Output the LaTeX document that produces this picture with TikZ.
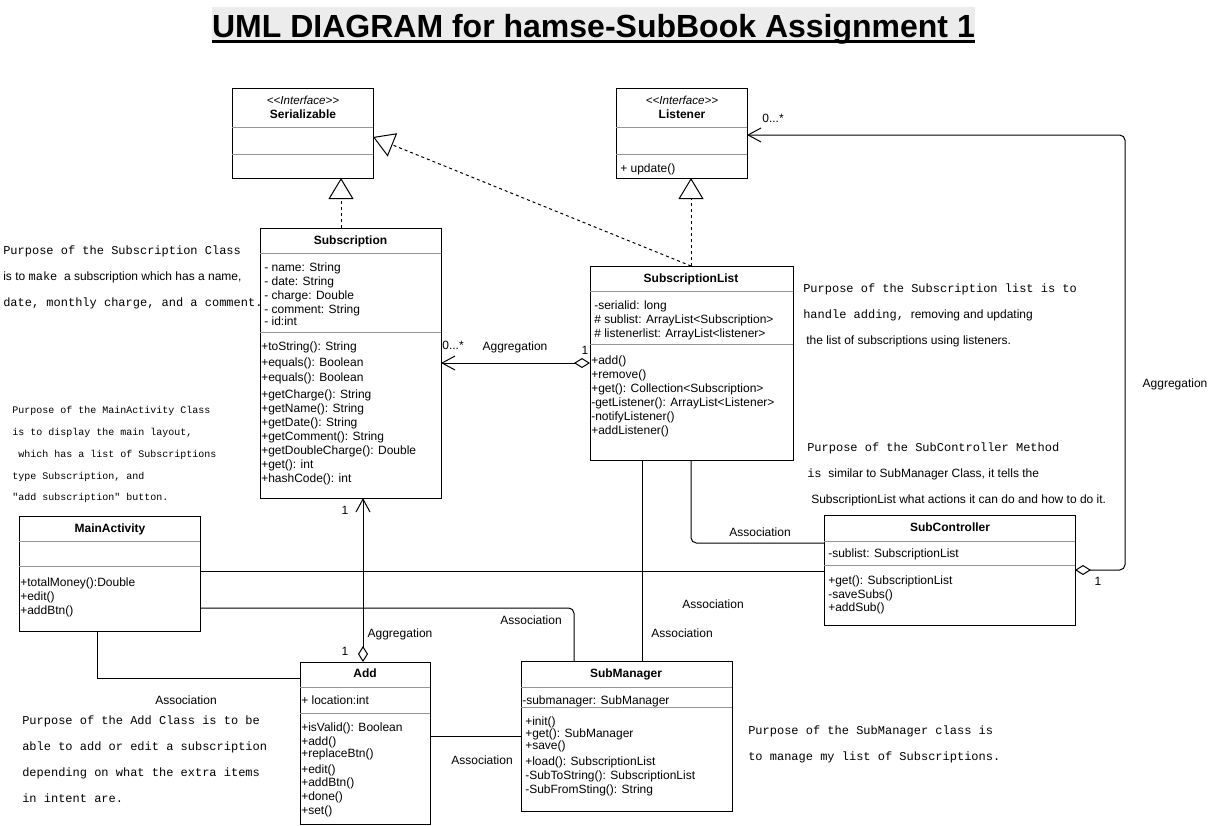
\documentclass[tikz,border=0pt]{standalone}
\usepackage{fontspec}
\setmainfont{Liberation Sans}
\newfontfamily\cour{Liberation Mono}
\usetikzlibrary{arrows.meta,calc}
\definecolor{divgray}{RGB}{150,150,150}
\definecolor{titlebg}{RGB}{236,236,236}
\tikzset{
 x=0.75pt, y=-0.75pt,
 clsbox/.style={draw, line width=0.75pt, inner sep=0pt, outer sep=0pt, anchor=north west},
 divline/.style={draw=divgray, line width=0.75pt},
 tx/.style={inner sep=0pt, anchor=base west, font=\fontsize{9pt}{10.5pt}\selectfont},
 hd/.style={inner sep=0pt, anchor=base, font=\fontsize{9pt}{10.5pt}\selectfont\bfseries},
 itf/.style={inner sep=0pt, anchor=base, font=\fontsize{8.7pt}{10pt}\selectfont\itshape},
 lbl/.style={inner sep=0pt, anchor=base, font=\fontsize{9pt}{10.5pt}\selectfont},
 nt/.style={inner sep=0pt, anchor=base west, font=\fontsize{9pt}{10.5pt}\selectfont\cour},
 ntsmall/.style={inner sep=0pt, anchor=base west, font=\fontsize{7.5pt}{9pt}\selectfont\cour},
 conn/.style={draw, line width=0.75pt},
 realize/.style={draw, line width=0.75pt, dash pattern=on 2.25pt off 2.25pt, -{Triangle[open, length=15.75pt, width=18.75pt]}},
 aggr/.style={conn, {Diamond[open,length=12pt,width=7.5pt]}-{Straight Barb[length=9.75pt,width=10.5pt]}},
}
\newcommand\umlbox[5]{\node[clsbox, minimum width={(#4-#2)*0.75pt}, minimum height={(#5-#3)*0.75pt}] (#1) at (#2,#3) {};}
\newcommand\umldiv[2]{\draw[divline] (#1.west |- 0,#2) -- (#1.east |- 0,#2);}
\begin{document}
\begin{tikzpicture}
\useasboundingbox (0,0) rectangle (1209,825);

% title
\node[font=\fontsize{24pt}{28pt}\selectfont\bfseries, inner sep=0pt, anchor=base, fill=titlebg, text height=22.5pt, text depth=4.5pt] (title) at (593.5,37) {UML DIAGRAM for hamse-SubBook Assignment 1};
\draw[line width=2.25pt] ($(title.base west)+(0,4.5)$) -- ($(title.base east)+(0,4.5)$);

% Serializable
\umlbox{se}{232}{88}{373}{178}
\umldiv{se}{127}\umldiv{se}{154}
\node[itf] (se-s) at (303,104) {<\kern0pt<Interface>\kern0pt>};
\node[hd] (se-n) at (303,118) {Serializable};

% Listener
\umlbox{li}{616}{88}{747}{178}
\umldiv{li}{127}\umldiv{li}{154}
\node[itf] (li-s) at (682,104) {<\kern0pt<Interface>\kern0pt>};
\node[hd] (li-n) at (682,118) {Listener};
\node[tx] (li-m1) at (620,172) {+ update()};

% Subscription
\umlbox{sub}{260}{228}{441}{498}
\umldiv{sub}{253}\umldiv{sub}{332}
\node[hd] (sub-n) at (350.5,244) {Subscription};
\node[tx] (sub-a1) at (264,271) {- name: String};
\node[tx] (sub-a2) at (264,285) {- date: String};
\node[tx] (sub-a3) at (264,299) {- charge: Double};
\node[tx] (sub-a4) at (264,313) {- comment: String};
\node[tx] (sub-a5) at (264,325) {- id:int};
\node[tx] (sub-m1) at (261,350) {+toString(): String};
\node[tx] (sub-m2) at (261,366) {+equals(): Boolean};
\node[tx] (sub-m3) at (261,381) {+equals(): Boolean};
\node[tx] (sub-m4) at (261,398) {+getCharge(): String};
\node[tx] (sub-m5) at (261,412) {+getName(): String};
\node[tx] (sub-m6) at (261,426) {+getDate(): String};
\node[tx] (sub-m7) at (261,440) {+getComment(): String};
\node[tx] (sub-m8) at (261,454) {+getDoubleCharge(): Double};
\node[tx] (sub-m9) at (261,468) {+get(): int};
\node[tx] (sub-m10) at (261,482) {+hashCode(): int};

% SubscriptionList
\umlbox{sl}{590}{266}{793}{460}
\umldiv{sl}{291}\umldiv{sl}{344}
\node[hd] (sl-n) at (691,282) {SubscriptionList};
\node[tx] (sl-a1) at (594,309) {-serialid: long};
\node[tx] (sl-a2) at (594,323) {\# sublist: ArrayList<Subscription>};
\node[tx] (sl-a3) at (594,337) {\# listenerlist: ArrayList<listener>};
\node[tx] (sl-m1) at (591,364) {+add()};
\node[tx] (sl-m2) at (591,378) {+remove()};
\node[tx] (sl-m3) at (591,392) {+get(): Collection<Subscription>};
\node[tx] (sl-m4) at (591,406) {-getListener(): ArrayList<Listener>};
\node[tx] (sl-m5) at (591,420) {-notifyListener()};
\node[tx] (sl-m6) at (591,434) {+addListener()};

% MainActivity
\umlbox{ma}{19}{516}{200}{631}
\umldiv{ma}{541}\umldiv{ma}{566}
\node[hd] (ma-n) at (110,532) {MainActivity};
\node[tx] (ma-m1) at (20,586) {+totalMoney():Double};
\node[tx] (ma-m2) at (20,600) {+edit()};
\node[tx] (ma-m3) at (20,614) {+addBtn()};

% Add
\umlbox{add}{300}{662}{430}{824}
\umldiv{add}{687}\umldiv{add}{713}
\node[hd] (add-n) at (365,677) {Add};
\node[tx] (add-a1) at (301,704) {+ location:int};
\node[tx] (add-m1) at (301,731) {+isValid(): Boolean};
\node[tx] (add-m2) at (301,745) {+add()};
\node[tx] (add-m3) at (301,757) {+replaceBtn()};
\node[tx] (add-m4) at (301,773) {+edit()};
\node[tx] (add-m5) at (301,786) {+addBtn()};
\node[tx] (add-m6) at (301,800) {+done()};
\node[tx] (add-m7) at (301,814) {+set()};

% SubManager
\umlbox{sm}{521}{661}{732}{811}
\umldiv{sm}{687}\umldiv{sm}{707}
\node[hd] (sm-n) at (626,677) {SubManager};
\node[tx] (sm-a1) at (522,704) {-submanager: SubManager};
\node[tx] (sm-m1) at (525,725) {+init()};
\node[tx] (sm-m2) at (525,737) {+get(): SubManager};
\node[tx] (sm-m3) at (525,749) {+save()};
\node[tx] (sm-m4) at (525,765) {+load(): SubscriptionList};
\node[tx] (sm-m5) at (525,779) {-SubToString(): SubscriptionList};
\node[tx] (sm-m6) at (525,793) {-SubFromSting(): String};

% SubController
\umlbox{sc}{824}{515}{1075}{625}
\umldiv{sc}{541}\umldiv{sc}{565}
\node[hd] (sc-n) at (950,531) {SubController};
\node[tx] (sc-a1) at (828,557) {-sublist: SubscriptionList};
\node[tx] (sc-m1) at (828,584) {+get(): SubscriptionList};
\node[tx] (sc-m2) at (828,598) {-saveSubs()};
\node[tx] (sc-m3) at (828,611) {+addSub()};

% realizations
\draw[realize] (341,0 |- sub.north) -- (341,0 |- se.south);
\draw[realize] (691,0 |- sl.north) -- (691,0 |- li.south);
\draw[realize] (691,0 |- sl.north) -- (se.east |- 0,137);

% aggregations
\draw[aggr] (sl.west |- 0,363) -- (sub.east |- 0,363);
\draw[aggr] (363,0 |- add.north) -- (363,0 |- sub.south);
\draw[aggr, rounded corners=4pt] (sc.east |- 0,570) -- (1125,570) -- (1125,135) -- (li.east |- 0,135);

% associations
\draw[conn] (97,0 |- ma.south) |- (add.west |- 0,678);
\draw[conn] (ma.east |- 0,571) -- (sc.west |- 0,571);
\draw[conn, rounded corners=4pt] (ma.east |- 0,608) -| (574,0 |- sm.north);
\draw[conn] (642,0 |- sl.south) -- (642,0 |- sm.north);
\draw[conn, rounded corners=4pt] (691,0 |- sl.south) |- (sc.west |- 0,543);
\draw[conn] (add.east |- 0,736) -- (sm.west |- 0,736);

% connector labels
\node[lbl] (l1) at (453,349) {0...*};
\node[lbl] (l2) at (515,350) {Aggregation};
\node[lbl] (l3) at (585,354) {1};
\node[lbl] (l4) at (345,514) {1};
\node[lbl] (l5) at (345,655) {1};
\node[lbl] (l6) at (400,637) {Aggregation};
\node[lbl] (l7) at (186,704) {Association};
\node[lbl] (l8) at (531,624) {Association};
\node[lbl] (l9) at (713,608) {Association};
\node[lbl] (l10) at (682,637) {Association};
\node[lbl] (l11) at (482,764) {Association};
\node[lbl] (l12) at (760,536) {Association};
\node[lbl] (l13) at (773,122) {0...*};
\node[lbl] (l14) at (1098,585) {1};
\node[lbl] (l15) at (1175,387) {Aggregation};

% notes
\node[nt] (n1a) at (3,254) {Purpose of the Subscription Class};
\node[tx] (n1b) at (3,280) {is to {\cour make}\ \ a subscription which has a name,};
\node[nt] (n1c) at (3,306) {date, monthly charge, and a comment.};

\node[ntsmall] (n2a) at (12,413) {Purpose of the MainActivity Class};
\node[ntsmall] (n2b) at (12,435) {is to display the main layout,};
\node[ntsmall] (n2c) at (18,457) {which has a list of Subscriptions};
\node[ntsmall] (n2d) at (12,479) {type Subscription, and};
\node[ntsmall] (n2e) at (12,500) {"add subscription" button.};

\node[nt] (n3a) at (803,292) {Purpose of the Subscription list is to};
\node[tx] (n3b) at (803,318) {{\cour handle adding,}\ \ removing and updating};
\node[tx] (n3c) at (806,344) {the list of subscriptions using listeners.};

\node[nt] (n4a) at (807,451) {Purpose of the SubController Method};
\node[tx] (n4b) at (807,477) {{\cour is}\ \ similar to SubManager Class, it tells the};
\node[tx] (n4c) at (811,503) {SubscriptionList what actions it can do and how to do it.};

\node[nt] (n5a) at (22,724) {Purpose of the Add Class is to be};
\node[nt] (n5b) at (22,750) {able to add or edit a subscription};
\node[nt] (n5c) at (22,776) {depending on what the extra items};
\node[nt] (n5d) at (22,802) {in intent are.};

\node[nt] (n6a) at (748,734) {Purpose of the SubManager class is};
\node[nt] (n6b) at (748,760) {to manage my list of Subscriptions.};
\end{tikzpicture}
\end{document}
